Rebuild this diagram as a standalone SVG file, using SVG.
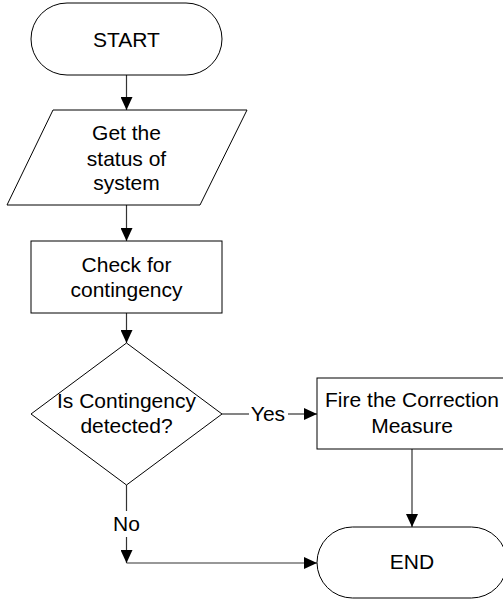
<svg xmlns="http://www.w3.org/2000/svg" width="503" height="600" viewBox="0 0 503 600">
  <style>
    .shape { fill: #ffffff; stroke: #000000; stroke-width: 1; }
    .label { font-family: "Liberation Sans", Arial, sans-serif; font-size: 21px; fill: #000000; text-anchor: middle; }
    .conn { fill: none; stroke: #333333; stroke-width: 1.2; }
  </style>
  <defs>
    <marker id="arrow" viewBox="0 0 13 12" refX="13" refY="6" markerWidth="13" markerHeight="12" markerUnits="userSpaceOnUse" orient="auto">
      <path d="M0,0 L13,6 L0,12 Z" fill="#000000"/>
    </marker>
  </defs>
  <rect width="503" height="600" fill="#ffffff"/>

  <!-- connectors -->
  <g id="connectors">
    <line class="conn" x1="126.5" y1="75" x2="126.5" y2="110" marker-end="url(#arrow)"/>
    <line class="conn" x1="126.5" y1="205" x2="126.5" y2="241" marker-end="url(#arrow)"/>
    <line class="conn" x1="126.5" y1="313" x2="126.5" y2="343" marker-end="url(#arrow)"/>
    <!-- Yes branch -->
    <line class="conn" x1="222" y1="414" x2="249" y2="414"/>
    <line class="conn" x1="288" y1="414" x2="317" y2="414" marker-end="url(#arrow)"/>
    <text class="label" x="268" y="421">Yes</text>
    <!-- No branch -->
    <line class="conn" x1="126.5" y1="485" x2="126.5" y2="511"/>
    <line class="conn" x1="126.5" y1="537" x2="126.5" y2="563" marker-end="url(#arrow)"/>
    <text class="label" x="126.5" y="531">No</text>
    <line class="conn" x1="126.5" y1="563" x2="317" y2="563" marker-end="url(#arrow)"/>
    <!-- correction to end -->
    <line class="conn" x1="412" y1="449" x2="412" y2="527" marker-end="url(#arrow)"/>
  </g>

  <g id="start">
    <rect class="shape" x="31" y="3" width="191" height="72" rx="36" ry="36"/>
    <text class="label" x="126.5" y="47">START</text>
  </g>

  <g id="get-status">
    <polygon class="shape" points="53,110 247,110 200,205 7,205"/>
    <text class="label" x="126.5" y="140">Get the</text>
    <text class="label" x="126.5" y="166">status of</text>
    <text class="label" x="126.5" y="190">system</text>
  </g>

  <g id="check">
    <rect class="shape" x="31" y="241" width="191" height="72"/>
    <text class="label" x="126.5" y="272">Check for</text>
    <text class="label" x="126.5" y="297">contingency</text>
  </g>

  <g id="decision">
    <polygon class="shape" points="126.5,343 222,414 126.5,485 31,414"/>
    <text class="label" x="126.5" y="408">Is Contingency</text>
    <text class="label" x="126.5" y="433">detected?</text>
  </g>

  <g id="correction">
    <rect class="shape" x="317" y="378" width="190" height="71"/>
    <text class="label" x="412" y="407">Fire the Correction</text>
    <text class="label" x="412" y="433">Measure</text>
  </g>

  <g id="end">
    <rect class="shape" x="317" y="527" width="190" height="71" rx="35.5" ry="35.5"/>
    <text class="label" x="412" y="569">END</text>
  </g>
</svg>
